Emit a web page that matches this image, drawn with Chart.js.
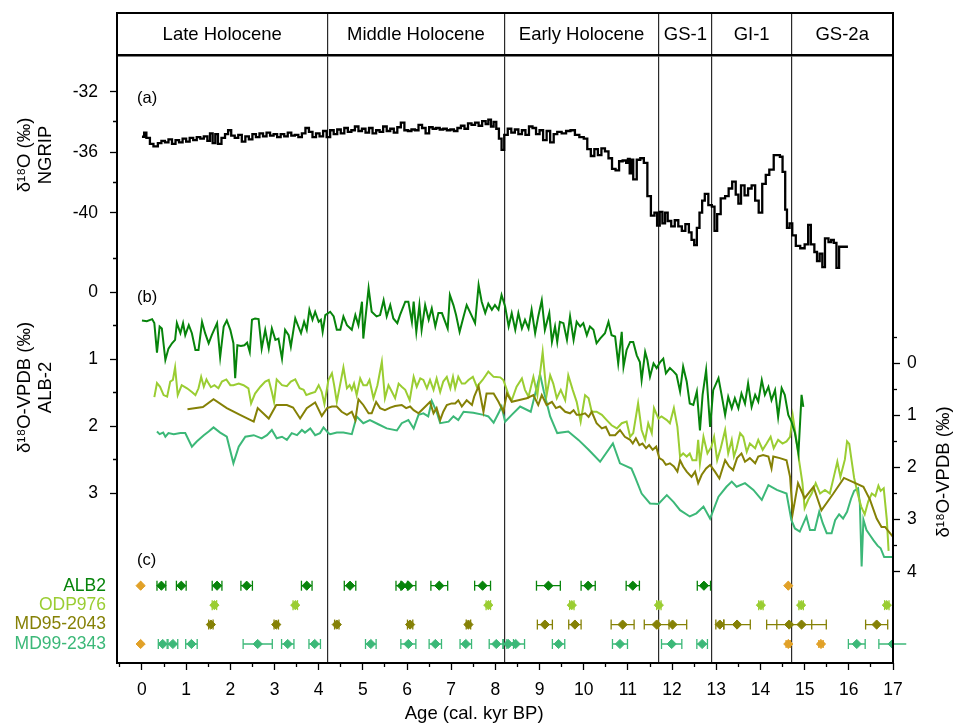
<!DOCTYPE html>
<html>
<head>
<meta charset="UTF-8">
<title>ALB-2 / NGRIP</title>
<script src="https://cdn.jsdelivr.net/npm/chart.js@4.4.1/dist/chart.umd.min.js"></script>
<style>
  body { margin: 0; background: #fff; }
</style>
</head>
<body>
<canvas id="chart_alb2" width="954" height="725"></canvas>
<script>
Chart.defaults.font.family = '"Liberation Sans", Arial, Helvetica, sans-serif';
Chart.defaults.color = '#000';

// axis ranges
const AGE_MIN = -0.565, AGE_MAX = 17;

// periods (header band)
const periodEdges = [AGE_MIN, 4.2, 8.2, 11.7, 12.9, 14.7, AGE_MAX];
const periodNames = ['Late Holocene', 'Middle Holocene', 'Early Holocene', 'GS-1', 'GI-1', 'GS-2a'];

// tick labels
const ageTicks = [0, 1, 2, 3, 4, 5, 6, 7, 8, 9, 10, 11, 12, 13, 14, 15, 16, 17];
const ngripTicks = [-32, -36, -40];
const ngripMinor = [-34, -38];
const alb2Ticks = [0, 1, 2, 3];
const alb2Minor = [-0.5, 0.5, 1.5, 2.5];
const marineTicks = [0, 1, 2, 3, 4];
const marineMinor = [-0.5, 0.5, 1.5, 2.5, 3.5];
const panelLabels = ['(a)', '(b)', '(c)'];
const marineTitle = 'δ¹⁸O-VPDB (‰)';

// (a) NGRIP d18O
const ngripAge = [0.00, 0.05, 0.10, 0.18, 0.26, 0.36, 0.44, 0.52, 0.60, 0.68, 0.76, 0.84, 0.92, 1.00, 1.08, 1.16, 1.24, 1.32, 1.40, 1.48,
  1.54, 1.60, 1.66, 1.72, 1.80, 1.88, 1.95, 2.02, 2.10, 2.18, 2.26, 2.34, 2.42, 2.50, 2.58, 2.66, 2.74, 2.82, 2.90, 2.98,
  3.06, 3.14, 3.22, 3.30, 3.38, 3.46, 3.54, 3.62, 3.70, 3.78, 3.86, 3.94, 4.02, 4.10, 4.18, 4.26, 4.34, 4.42, 4.50, 4.58,
  4.66, 4.74, 4.82, 4.90, 4.98, 5.06, 5.14, 5.22, 5.30, 5.38, 5.46, 5.54, 5.62, 5.70, 5.78, 5.86, 5.94, 6.02, 6.10, 6.18,
  6.26, 6.34, 6.42, 6.50, 6.58, 6.66, 6.74, 6.82, 6.90, 6.98, 7.06, 7.14, 7.22, 7.30, 7.38, 7.46, 7.54, 7.62, 7.70, 7.78,
  7.84, 7.90, 7.96, 8.02, 8.08, 8.14, 8.20, 8.28, 8.36, 8.44, 8.52, 8.60, 8.68, 8.76, 8.84, 8.92, 9.00, 9.08, 9.16, 9.24,
  9.32, 9.40, 9.50, 9.60, 9.70, 9.80, 9.90, 10.00, 10.08, 10.16, 10.24, 10.32, 10.40, 10.48, 10.56, 10.64, 10.72, 10.80, 10.88, 10.96,
  11.00, 11.04, 11.08, 11.12, 11.20, 11.28, 11.36, 11.44, 11.52, 11.60, 11.66, 11.72, 11.78, 11.84, 11.90, 11.98, 12.06, 12.14, 12.22, 12.30,
  12.38, 12.44, 12.50, 12.56, 12.62, 12.68, 12.74, 12.82, 12.90, 12.96, 13.02, 13.10, 13.20, 13.28, 13.36, 13.44, 13.50, 13.56, 13.64, 13.72,
  13.80, 13.88, 13.96, 14.04, 14.12, 14.20, 14.30, 14.44, 14.50, 14.56, 14.60, 14.66, 14.72, 14.80, 14.90, 15.00, 15.08, 15.14, 15.22, 15.28,
  15.34, 15.40, 15.46, 15.54, 15.60, 15.66, 15.72, 15.78, 15.98];
const ngripD18O = [-34.98, -34.70, -35.05, -35.45, -35.62, -35.40, -35.25, -35.35, -35.15, -35.45, -35.20, -35.35, -35.10, -35.30, -35.05, -35.20, -35.00, -35.10, -34.95, -35.25,
  -34.75, -35.40, -34.80, -35.45, -35.05, -34.80, -34.55, -34.90, -35.05, -34.85, -35.30, -34.95, -35.15, -34.80, -35.00, -34.75, -34.95, -34.70, -34.90, -34.80,
  -35.00, -34.80, -34.95, -34.70, -34.90, -34.85, -35.00, -34.75, -34.40, -34.65, -35.00, -34.75, -34.95, -34.60, -35.00, -34.55, -34.80, -34.50, -34.75, -34.40,
  -34.65, -34.55, -34.30, -34.60, -34.45, -34.70, -34.40, -34.75, -34.55, -34.65, -34.30, -34.60, -34.45, -34.70, -34.35, -34.05, -34.55, -34.60, -34.50, -34.55,
  -34.20, -34.40, -34.75, -34.35, -34.45, -34.40, -34.50, -34.45, -34.55, -34.50, -34.60, -34.40, -34.25, -34.45, -34.10, -34.20, -34.05, -34.25, -33.95, -34.15,
  -33.85, -34.30, -34.00, -34.45, -35.10, -35.85, -34.85, -34.45, -34.70, -34.50, -34.80, -34.55, -34.85, -34.30, -34.40, -34.80, -34.55, -35.20, -34.60, -35.35,
  -34.80, -34.65, -34.75, -34.60, -34.55, -34.85, -35.00, -35.10, -35.80, -36.25, -35.80, -36.20, -35.75, -35.95, -36.40, -37.10, -37.20, -36.60, -36.55, -36.70,
  -36.45, -37.40, -36.50, -37.80, -36.50, -36.40, -36.70, -38.90, -40.20, -40.00, -40.85, -39.95, -40.70, -40.00, -40.55, -40.90, -40.50, -40.90, -41.20, -40.75,
  -41.30, -41.80, -42.15, -41.00, -40.00, -39.20, -38.75, -39.50, -39.60, -41.20, -40.10, -39.05, -38.90, -38.40, -37.95, -38.80, -39.40, -38.20, -38.85, -38.40,
  -38.20, -39.20, -40.00, -38.10, -37.50, -37.15, -36.20, -36.30, -37.30, -39.80, -41.00, -40.70, -41.50, -42.20, -42.35, -42.10, -40.80, -42.10, -42.60, -43.20,
  -42.70, -43.60, -41.70, -41.95, -41.80, -42.00, -43.65, -42.25, -42.25];

// (b) ALB-2 speleothem d18O (left axis)
const alb2Age = [0.00, 0.11, 0.23, 0.28, 0.34, 0.40, 0.45, 0.53, 0.60, 0.68, 0.75, 0.79, 0.87, 0.93, 0.98, 1.06, 1.13, 1.21, 1.28, 1.36,
  1.43, 1.51, 1.58, 1.70, 1.77, 1.85, 1.92, 2.00, 2.07, 2.11, 2.16, 2.24, 2.32, 2.38, 2.44, 2.49, 2.56, 2.64, 2.71, 2.79,
  2.87, 2.94, 3.02, 3.09, 3.17, 3.24, 3.32, 3.37, 3.47, 3.54, 3.60, 3.67, 3.73, 3.79, 3.86, 3.92, 4.00, 4.05, 4.09, 4.15,
  4.26, 4.34, 4.41, 4.49, 4.56, 4.64, 4.75, 4.83, 4.90, 4.98, 5.01, 5.13, 5.20, 5.31, 5.39, 5.47, 5.54, 5.62, 5.69, 5.78,
  5.84, 5.96, 6.03, 6.11, 6.15, 6.21, 6.28, 6.33, 6.41, 6.49, 6.56, 6.64, 6.71, 6.79, 6.92, 6.97, 7.05, 7.11, 7.19, 7.28,
  7.35, 7.47, 7.54, 7.62, 7.69, 7.77, 7.84, 7.92, 7.99, 8.07, 8.14, 8.22, 8.30, 8.37, 8.45, 8.52, 8.60, 8.67, 8.75, 8.82,
  8.90, 8.97, 9.05, 9.12, 9.22, 9.28, 9.35, 9.40, 9.46, 9.54, 9.62, 9.69, 9.77, 9.84, 9.92, 9.99, 10.07, 10.14, 10.22, 10.29,
  10.37, 10.48, 10.56, 10.63, 10.71, 10.78, 10.86, 10.90, 10.97, 11.05, 11.12, 11.20, 11.27, 11.31, 11.39, 11.44, 11.50, 11.58, 11.65, 11.73,
  11.80, 11.86, 11.95, 12.03, 12.10, 12.18, 12.25, 12.33, 12.40, 12.48, 12.56, 12.63, 12.69, 12.77, 12.86, 12.93, 13.05, 13.12, 13.20, 13.27,
  13.35, 13.42, 13.50, 13.57, 13.65, 13.72, 13.80, 13.88, 13.95, 14.03, 14.10, 14.18, 14.25, 14.33, 14.40, 14.48, 14.55, 14.63, 14.70, 14.78,
  14.86, 14.93, 14.97];
const alb2D18O = [0.42, 0.43, 0.40, 0.46, 0.90, 0.51, 0.54, 1.01, 0.84, 0.76, 0.71, 0.46, 0.61, 0.46, 0.64, 0.49, 0.61, 0.86, 0.86, 0.44,
  0.61, 0.76, 0.64, 0.46, 0.97, 0.51, 0.42, 0.56, 0.76, 1.28, 0.79, 0.80, 0.79, 0.75, 0.89, 0.41, 0.39, 0.40, 0.84, 0.56,
  0.84, 0.54, 0.71, 0.69, 0.99, 0.56, 0.64, 0.81, 0.39, 0.51, 0.61, 0.44, 0.56, 0.26, 0.41, 0.29, 0.44, 0.41, 0.59, 0.34,
  0.29, 0.36, 0.56, 0.56, 0.36, 0.49, 0.56, 0.34, 0.49, 0.14, 0.69, -0.06, 0.29, 0.36, 0.34, 0.12, 0.36, 0.19, 0.39, 0.46,
  0.34, 0.14, 0.14, 0.44, 0.14, 0.59, 0.19, 0.56, 0.19, 0.41, 0.24, 0.51, 0.31, 0.31, 0.54, 0.04, 0.19, 0.34, 0.59, 0.36,
  0.19, 0.36, 0.46, -0.11, 0.14, 0.31, 0.17, 0.26, 0.19, 0.26, 0.04, 0.21, 0.51, 0.31, 0.56, 0.31, 0.54, 0.41, 0.54, 0.26,
  0.61, 0.36, 0.12, 0.56, 0.31, 0.74, 0.51, 0.74, 0.44, 0.46, 0.71, 0.36, 0.71, 0.44, 0.51, 0.46, 0.64, 0.51, 0.56, 0.76,
  0.69, 0.61, 0.44, 0.64, 0.66, 1.06, 0.59, 1.11, 0.86, 0.74, 0.74, 0.94, 1.04, 1.31, 0.89, 1.01, 1.26, 1.06, 1.13, 1.04,
  0.99, 1.21, 1.13, 1.18, 1.23, 1.48, 1.11, 1.33, 1.66, 1.68, 1.48, 2.06, 1.53, 1.16, 2.01, 1.46, 1.28, 1.53, 1.83, 1.56,
  1.73, 1.58, 1.73, 1.51, 1.66, 1.36, 1.71, 1.53, 1.63, 1.31, 1.53, 1.41, 1.61, 1.46, 1.86, 1.43, 1.53, 1.83, 1.93, 2.10,
  2.40, 1.53, 1.71];

// (b) marine cores d18O (right axis)
const odpAge = [0.28, 0.34, 0.41, 0.49, 0.57, 0.64, 0.70, 0.75, 0.81, 0.90, 1.02, 1.13, 1.21, 1.28, 1.34, 1.40, 1.46, 1.51, 1.56, 1.64,
  1.73, 1.81, 1.91, 2.00, 2.07, 2.19, 2.30, 2.41, 2.47, 2.56, 2.68, 2.79, 2.87, 2.94, 2.99, 3.05, 3.17, 3.28, 3.37, 3.47,
  3.57, 3.66, 3.72, 3.81, 3.92, 4.00, 4.07, 4.13, 4.22, 4.30, 4.35, 4.41, 4.49, 4.56, 4.64, 4.70, 4.75, 4.80, 4.86, 4.94,
  5.01, 5.09, 5.15, 5.24, 5.33, 5.43, 5.50, 5.58, 5.66, 5.73, 5.81, 5.88, 5.96, 6.06, 6.15, 6.22, 6.30, 6.37, 6.45, 6.52,
  6.60, 6.67, 6.75, 6.82, 6.90, 6.98, 7.04, 7.09, 7.16, 7.24, 7.31, 7.39, 7.49, 7.58, 7.71, 7.84, 7.96, 8.11, 8.18, 8.30,
  8.37, 8.48, 8.60, 8.67, 8.75, 8.86, 8.95, 9.07, 9.16, 9.24, 9.31, 9.39, 9.48, 9.58, 9.65, 9.75, 9.84, 9.93, 10.03, 10.11,
  10.18, 10.29, 10.41, 10.52, 10.63, 10.75, 10.86, 10.97, 11.05, 11.12, 11.23, 11.31, 11.39, 11.46, 11.54, 11.59, 11.69, 11.76, 11.88, 11.95,
  12.04, 12.12, 12.18, 12.25, 12.33, 12.40, 12.46, 12.55, 12.59, 12.63, 12.71, 12.80, 12.89, 12.95, 13.02, 13.10, 13.20, 13.27, 13.35, 13.40,
  13.46, 13.54, 13.61, 13.69, 13.76, 13.88, 13.95, 14.05, 14.14, 14.23, 14.30, 14.40, 14.50, 14.59, 14.67, 14.73, 14.80, 14.88, 14.95, 15.00,
  15.08, 15.16, 15.25, 15.35, 15.46, 15.57, 15.66, 15.74, 15.81, 15.91, 15.96, 16.01, 16.06, 16.12, 16.20, 16.28, 16.36, 16.44, 16.52, 16.60,
  16.67, 16.72, 16.79, 16.86, 16.90];
const odpD18O = [0.65, 0.38, 0.45, 0.61, 0.64, 0.35, 0.32, 0.08, 0.61, 0.42, 0.48, 0.55, 0.61, 0.48, 0.26, 0.45, 0.31, 0.39, 0.46, 0.42,
  0.48, 0.35, 0.31, 0.42, 0.42, 0.39, 0.42, 0.48, 0.77, 0.58, 0.45, 0.35, 0.32, 0.55, 0.74, 0.31, 0.42, 0.44, 0.35, 0.31,
  0.48, 0.51, 0.61, 0.58, 0.55, 0.42, 0.55, 0.78, 0.32, 0.19, 0.42, 0.74, 0.39, 0.08, 0.48, 0.42, 0.51, 0.39, 0.61, 0.29,
  0.42, 0.42, 0.32, 0.67, 0.42, -0.03, 0.67, 0.42, 0.55, 0.67, 0.39, 0.45, 0.51, 0.71, 0.26, 0.45, 0.29, 0.32, 0.48, 0.32,
  0.51, 0.29, 0.55, 0.35, 0.26, 0.48, 0.26, 0.48, 0.26, 0.39, 0.39, 0.32, 0.26, 0.45, 0.32, 0.16, 0.26, 0.27, 0.32, 0.61,
  0.71, 0.45, 0.29, 0.51, 0.64, 0.26, 0.61, -0.22, 0.61, 0.23, 0.39, 0.67, 0.51, 0.71, 0.23, 0.51, 0.74, 1.12, 0.61, 0.67,
  0.93, 0.93, 0.99, 1.09, 1.19, 1.25, 1.15, 1.12, 1.41, 1.34, 0.77, 1.28, 1.47, 1.15, 1.34, 0.86, 1.06, 1.02, 1.09, 1.15,
  0.86, 1.22, 1.79, 1.73, 1.79, 1.73, 1.86, 1.86, 1.47, 1.92, 1.41, 1.73, 1.60, 1.41, 1.86, 1.63, 1.28, 1.73, 1.47, 1.79,
  1.63, 1.34, 1.41, 1.70, 1.54, 1.63, 1.47, 1.66, 1.54, 1.41, 1.63, 1.47, 1.54, 1.50, 1.41, 1.00, 1.40, 1.90, 2.30, 2.78,
  2.62, 2.50, 2.30, 2.50, 2.43, 2.50, 2.18, 1.89, 2.18, 1.85, 1.50, 1.55, 1.85, 2.20, 2.50, 2.75, 2.90, 2.65, 2.50, 2.55,
  2.35, 2.45, 2.40, 3.00, 3.60];

const md95Age = [1.03, 1.38, 1.62, 1.92, 2.22, 2.53, 2.62, 2.87, 3.04, 3.28, 3.42, 3.58, 3.73, 3.92, 4.07, 4.19, 4.30, 4.41, 4.52, 4.64,
  4.75, 4.83, 4.90, 5.01, 5.13, 5.20, 5.30, 5.39, 5.50, 5.62, 5.73, 5.88, 5.98, 6.07, 6.15, 6.26, 6.33, 6.45, 6.52, 6.60,
  6.67, 6.75, 6.82, 6.90, 7.01, 7.09, 7.16, 7.24, 7.35, 7.47, 7.52, 7.62, 7.73, 7.80, 7.96, 8.07, 8.18, 8.26, 8.37, 8.52,
  8.71, 8.86, 8.97, 9.05, 9.16, 9.28, 9.37, 9.46, 9.58, 9.69, 9.77, 9.84, 9.92, 10.03, 10.11, 10.18, 10.29, 10.41, 10.50, 10.59,
  10.71, 10.82, 10.93, 11.05, 11.11, 11.18, 11.26, 11.33, 11.41, 11.48, 11.56, 11.64, 11.71, 11.79, 11.86, 11.95, 12.04, 12.12, 12.18, 12.25,
  12.33, 12.44, 12.52, 12.59, 12.67, 12.77, 12.86, 12.97, 13.07, 13.20, 13.29, 13.38, 13.47, 13.57, 13.65, 13.76, 13.88, 13.95, 14.06, 14.18,
  14.25, 14.29, 14.44, 14.59, 14.67, 14.73, 14.85, 15.00, 15.20, 15.38, 15.65, 15.89, 16.33, 16.48, 16.63, 16.74, 16.82, 17.00];
const md95D18O = [0.88, 0.84, 0.69, 0.86, 0.99, 1.12, 0.86, 1.06, 0.80, 0.80, 0.85, 1.06, 0.86, 0.75, 1.01, 0.86, 0.83, 0.83, 0.93, 0.99,
  0.93, 1.09, 0.69, 0.80, 0.96, 0.96, 0.74, 0.86, 0.90, 0.85, 0.82, 0.80, 0.86, 0.83, 0.90, 0.96, 0.90, 0.80, 0.74, 0.96,
  0.86, 1.09, 0.93, 0.80, 0.77, 0.77, 0.71, 0.83, 0.71, 0.80, 0.64, 0.44, 0.93, 0.58, 0.58, 0.74, 0.93, 0.58, 0.74, 0.71,
  0.67, 0.61, 0.80, 0.61, 0.80, 0.74, 0.86, 0.83, 0.93, 0.96, 0.90, 0.99, 0.99, 0.96, 1.03, 0.93, 1.15, 1.25, 1.22, 1.38,
  1.38, 1.28, 1.41, 1.47, 1.54, 1.44, 1.57, 1.54, 1.63, 1.57, 1.66, 1.60, 1.82, 1.86, 1.95, 1.92, 1.98, 2.08, 1.86, 1.98,
  2.08, 2.18, 2.08, 2.30, 2.14, 2.02, 1.95, 2.08, 2.21, 1.86, 1.98, 2.05, 1.82, 1.73, 1.89, 1.82, 1.92, 1.79, 1.76, 1.79,
  2.02, 1.79, 1.82, 1.86, 2.18, 2.88, 2.30, 2.59, 2.37, 2.82, 2.50, 2.20, 2.37, 2.62, 2.98, 3.14, 3.14, 3.33];

const md99Age = [0.34, 0.40, 0.48, 0.53, 0.60, 0.72, 0.87, 0.98, 1.13, 1.24, 1.40, 1.51, 1.62, 1.77, 1.92, 2.07, 2.19, 2.34, 2.53, 2.71,
  2.83, 2.94, 3.05, 3.17, 3.28, 3.39, 3.51, 3.62, 3.69, 3.81, 3.92, 4.03, 4.11, 4.22, 4.26, 4.41, 4.56, 4.75, 4.86, 5.01,
  5.16, 5.35, 5.54, 5.77, 5.88, 6.03, 6.15, 6.26, 6.37, 6.48, 6.56, 6.67, 6.75, 6.94, 7.05, 7.16, 7.28, 7.50, 7.73, 7.84,
  7.96, 8.07, 8.14, 8.22, 8.37, 8.56, 8.80, 9.01, 9.10, 9.24, 9.40, 9.65, 9.88, 10.11, 10.37, 10.66, 10.82, 11.08, 11.16, 11.31,
  11.50, 11.69, 11.88, 12.03, 12.18, 12.40, 12.55, 12.71, 12.86, 13.05, 13.23, 13.35, 13.46, 13.65, 13.84, 14.03, 14.18, 14.37, 14.59, 14.70,
  14.78, 14.89, 15.04, 15.12, 15.23, 15.33, 15.41, 15.50, 15.61, 15.69, 15.78, 15.87, 15.96, 16.05, 16.12, 16.21, 16.25, 16.29, 16.33, 16.40,
  16.48, 16.56, 16.65, 16.72, 16.80, 17.00];
const md99D18O = [1.31, 1.36, 1.33, 1.41, 1.34, 1.36, 1.34, 1.34, 1.60, 1.50, 1.38, 1.31, 1.23, 1.33, 1.41, 1.92, 1.60, 1.41, 1.38, 1.44,
  1.38, 1.28, 1.44, 1.41, 1.47, 1.34, 1.38, 1.28, 1.33, 1.25, 1.38, 1.34, 1.23, 1.34, 1.36, 1.33, 1.33, 1.36, 1.02, 1.15,
  1.09, 1.17, 1.25, 1.29, 1.15, 1.09, 1.25, 0.99, 0.96, 1.02, 0.72, 0.93, 1.15, 1.12, 1.02, 1.09, 0.93, 0.95, 0.99, 1.02,
  1.14, 0.96, 0.83, 1.12, 0.99, 0.83, 0.93, 0.21, 0.55, 1.02, 1.34, 1.31, 1.47, 1.66, 1.89, 1.54, 1.92, 2.02, 2.18, 2.50,
  2.69, 2.70, 2.53, 2.66, 2.82, 2.94, 2.88, 2.75, 2.98, 2.56, 2.37, 2.27, 2.37, 2.30, 2.43, 2.62, 2.34, 2.43, 2.50, 3.01,
  3.17, 3.23, 2.94, 3.20, 3.20, 2.85, 3.07, 3.26, 3.26, 3.01, 2.90, 2.98, 2.85, 2.60, 2.45, 2.40, 2.70, 3.90, 3.00, 3.20,
  3.30, 3.40, 3.50, 3.55, 3.72, 3.72];

// (c) age control points, one row per core
const coreNames = ['ALB2', 'ODP976', 'MD95-2043', 'MD99-2343'];
const coreColors = ['#07840b', '#9acd32', '#858106', '#3cb878'];
const tephraColor = '#e1a128';

const alb2DateAge = [0.44, 0.89, 1.70, 2.37, 3.73, 4.71, 5.88, 6.03, 6.73, 7.71, 9.20, 10.10, 11.11, 12.72];
const alb2DateErr = [0.10, 0.11, 0.11, 0.13, 0.12, 0.13, 0.13, 0.17, 0.19, 0.18, 0.27, 0.16, 0.15, 0.15];
const odpDateAge = [1.64, 3.47, 7.84, 9.73, 11.70, 14.01, 14.92, 16.86];
const odpDateErr = [0.05, 0.05, 0.05, 0.05, 0.05, 0.05, 0.05, 0.05];
const md95DateAge = [1.56, 3.04, 4.41, 6.07, 7.39, 9.12, 9.80, 10.88, 11.65, 12.01, 13.08, 13.47, 14.65, 14.93, 16.63];
const md95DateErr = [0.05, 0.05, 0.05, 0.06, 0.05, 0.17, 0.14, 0.26, 0.28, 0.32, 0.09, 0.30, 0.51, 0.56, 0.25];
const md99DateAge = [0.47, 0.70, 1.12, 2.62, 3.30, 3.91, 5.18, 6.03, 6.64, 7.33, 8.02, 8.29, 8.46, 9.43, 10.82, 11.99, 12.68, 16.18, 16.99];
const md99DateErr = [0.10, 0.11, 0.13, 0.33, 0.14, 0.13, 0.12, 0.17, 0.14, 0.13, 0.16, 0.12, 0.20, 0.14, 0.17, 0.23, 0.12, 0.19, 0.31];
const tephraAge = [-0.03, 14.63, -0.03, 14.63, 15.37];
const tephraErr = [0, 0, 0, 0.05, 0.05];
const tephraRow = [1, 1, 4, 4, 4];

// ---- helpers ----
const pts = (xs, ys) => xs.map((x, i) => ({x: x, y: ys[i]}));

function errorBars(ages, errs, rows) {
  const out = [];
  ages.forEach((a, i) => {
    const r = Array.isArray(rows) ? rows[i] : rows;
    out.push({x: a - errs[i], y: r}, {x: a + errs[i], y: r}, {x: a, y: null});
  });
  return out;
}

function setTicks(scale, major, minor) {
  scale.ticks = major.concat(minor).sort((a, b) => a - b).map(v => ({value: v}));
}

const rowOf = name => coreNames.indexOf(name) + 1;

function seriesSet(data, color, axis, width) {
  // clip off: the records run a little past their axis block, as in the figure
  return {type: 'line', data: data, xAxisID: 'x', yAxisID: axis, borderColor: color,
          borderWidth: width || 2, pointRadius: 0, tension: 0, clip: false};
}

function dateSets(ages, errs, idx) {
  const color = coreColors[idx];
  const row = idx + 1;
  return [
    {type: 'scatter', data: ages.map(a => ({x: a, y: row})), xAxisID: 'x', yAxisID: 'yC',
     pointStyle: 'rectRot', pointRadius: 4.6, backgroundColor: color, borderColor: color, borderWidth: 1},
    {type: 'line', data: errorBars(ages, errs, row), xAxisID: 'x', yAxisID: 'yC', spanGaps: false, clip: false,
     borderColor: color, borderWidth: 1.3, pointStyle: 'line', pointRotation: 90, pointRadius: 5,
     pointBorderColor: color, pointBorderWidth: 1.3}
  ];
}

// header ticks: edges (even index) and period centres (odd index)
const headerTicks = [];
periodEdges.forEach((e, i) => {
  headerTicks.push(e);
  if (i < periodEdges.length - 1) headerTicks.push((e + periodEdges[i + 1]) / 2);
});

const ageMinor = ageTicks.map(v => v - 0.5);
const tickFont = {size: 17.5};
const titleFont = {size: 18.5, lineHeight: 1.1};
const FONT = '"Liberation Sans", Arial, sans-serif';

// minor ticks are shorter: left ticks are drawn from the outside in, the others from the axis out
const dashLeft = major => c => major.includes(c.tick.value) ? [] : [0, 3, 4, 30];
const dashOut = major => c => major.includes(c.tick.value) ? [] : [4, 30];

const stepped = Object.assign(seriesSet(pts(ngripAge, ngripD18O), '#000', 'yA', 2.3), {stepped: true});

const datasets = [
  stepped,
  seriesSet(pts(alb2Age, alb2D18O), coreColors[0], 'yB'),
  seriesSet(pts(md95Age, md95D18O), coreColors[2], 'yR'),
  seriesSet(pts(odpAge, odpD18O), coreColors[1], 'yR'),
  seriesSet(pts(md99Age, md99D18O), coreColors[3], 'yR'),
  {type: 'scatter', data: pts(tephraAge, tephraRow), xAxisID: 'x', yAxisID: 'yC',
   pointStyle: 'rectRot', pointRadius: 4.6, backgroundColor: tephraColor, borderColor: tephraColor, borderWidth: 1},
  {type: 'line', data: errorBars(tephraAge, tephraErr, tephraRow), xAxisID: 'x', yAxisID: 'yC', spanGaps: false,
   borderColor: tephraColor, borderWidth: 1.3, pointStyle: 'line', pointRotation: 90, pointRadius: 4,
   pointBorderColor: tephraColor, pointBorderWidth: 1.3}
].concat(
  dateSets(alb2DateAge, alb2DateErr, 0),
  dateSets(odpDateAge, odpDateErr, 1),
  dateSets(md95DateAge, md95DateErr, 2),
  dateSets(md99DateAge, md99DateErr, 3)
);

// outer frame, panel letters and the right-hand title (which reads bottom to top)
const framePlugin = {
  id: 'frame',
  afterDraw(chart) {
    const ctx = chart.ctx, a = chart.chartArea, s = chart.scales;
    const top = s.xTop.top;
    ctx.save();
    ctx.strokeStyle = '#000';
    ctx.lineWidth = 2;
    ctx.strokeRect(a.left, top, a.right - a.left, a.bottom - top);
    ctx.fillStyle = '#000';
    ctx.font = '16.5px ' + FONT;
    ctx.textBaseline = 'middle';
    ctx.fillText(panelLabels[0], a.left + 20, s.yA.getPixelForValue(-32.42));
    ctx.fillText(panelLabels[1], a.left + 20, s.yB.getPixelForValue(0.07));
    ctx.fillText(panelLabels[2], a.left + 20, s.yC.getPixelForValue(-0.32));

    ctx.translate(s.yR.right - 10, (s.yR.top + s.yR.bottom) / 2);
    ctx.rotate(-Math.PI / 2);
    ctx.textAlign = 'center';
    ctx.font = titleFont.size + 'px ' + FONT;
    ctx.fillText(marineTitle, 0, 0);
    ctx.restore();
  }
};

new Chart(document.getElementById('chart_alb2'), {
  type: 'line',
  data: {datasets: datasets},
  options: {
    responsive: false,
    animation: false,
    events: [],
    layout: {padding: {top: 13, left: 0, right: 0, bottom: 0}},
    plugins: {legend: {display: false}, tooltip: {enabled: false}},
    scales: {
      x: {
        type: 'linear', position: 'bottom', min: AGE_MIN, max: AGE_MAX,
        afterBuildTicks: s => setTicks(s, ageTicks, ageMinor),
        afterFit: s => { s.height = 62; },
        ticks: {autoSkip: false, maxRotation: 0, padding: 10, font: tickFont,
                callback: v => ageTicks.includes(v) ? String(v) : ''},
        grid: {drawOnChartArea: false, tickLength: 7, color: '#000', tickWidth: 1.3, tickBorderDash: dashOut(ageTicks)},
        border: {display: false},
        // trailing spaces shift the centred title left, as in the figure
        title: {display: true, text: 'Age (cal. kyr BP)' + '\u00a0'.repeat(12), font: titleFont, padding: {top: 0, bottom: 1}}
      },
      xTop: {
        type: 'linear', position: 'top', min: AGE_MIN, max: AGE_MAX,
        afterBuildTicks: s => { s.ticks = headerTicks.map(v => ({value: v})); },
        afterFit: s => { s.height = 42; },
        ticks: {autoSkip: false, maxRotation: 0, padding: -32, font: titleFont,
                callback: (v, i) => i % 2 ? periodNames[(i - 1) / 2] : ''},
        grid: {drawOnChartArea: true, tickLength: 42, lineWidth: 1.2,
               color: c => c.index % 2 ? 'rgba(0,0,0,0)' : '#2a2a2a'},
        border: {display: true, width: 2.5, color: '#000'}
      },
      yA: {
        type: 'linear', position: 'left', stack: 'left', stackWeight: 200, weight: 3,
        min: -42.797, max: -29.574,
        afterBuildTicks: s => setTicks(s, ngripTicks, ngripMinor),
        afterFit: s => { s.width = 117; },
        ticks: {autoSkip: false, padding: 12, font: tickFont, callback: v => ngripTicks.includes(v) ? String(v) : ''},
        grid: {drawOnChartArea: false, tickLength: 7, color: '#000', tickWidth: 1.3, tickBorderDash: dashLeft(ngripTicks)},
        border: {display: false},
        title: {display: true, text: ['δ¹⁸O (‰)', 'NGRIP'], font: titleFont, padding: {top: 15, bottom: 0}}
      },
      yB: {
        type: 'linear', position: 'left', stack: 'left', stackWeight: 265, weight: 2,
        reverse: true, min: -0.557, max: 3.398,
        afterBuildTicks: s => setTicks(s, alb2Ticks, alb2Minor),
        afterFit: s => { s.width = 117; },
        ticks: {autoSkip: false, padding: 12, font: tickFont, callback: v => alb2Ticks.includes(v) ? String(v) : ''},
        grid: {drawOnChartArea: false, tickLength: 7, color: '#000', tickWidth: 1.3, tickBorderDash: dashLeft(alb2Ticks)},
        border: {display: false},
        title: {display: true, text: ['δ¹⁸O-VPDB (‰)', 'ALB-2'], font: titleFont, padding: {top: 15, bottom: 0}}
      },
      yC: {
        type: 'linear', position: 'left', stack: 'left', stackWeight: 143, weight: 1,
        reverse: true, min: -2.381, max: 4.978,
        afterBuildTicks: s => { s.ticks = coreNames.map(n => ({value: rowOf(n)})); },
        afterFit: s => { s.width = 117; },
        ticks: {autoSkip: false, padding: 11, font: {size: 17.5},
                color: c => coreColors[c.index], callback: (v, i) => coreNames[i]},
        grid: {drawOnChartArea: false, drawTicks: false},
        border: {display: false}
      },
      rTop: {type: 'linear', position: 'right', stack: 'right', stackWeight: 275, weight: 1, display: false, min: 0, max: 1},
      yR: {
        type: 'linear', position: 'right', stack: 'right', stackWeight: 284, weight: 2,
        reverse: true, min: -0.639, max: 4.812,
        afterBuildTicks: s => setTicks(s, marineTicks, marineMinor),
        afterFit: s => { s.width = 61; },
        ticks: {autoSkip: false, padding: 7, font: tickFont, callback: v => marineTicks.includes(v) ? String(v) : ''},
        grid: {drawOnChartArea: false, tickLength: 7, color: '#000', tickWidth: 1.3, tickBorderDash: dashOut(marineTicks)},
        border: {display: false}
      },
      rBot: {type: 'linear', position: 'right', stack: 'right', stackWeight: 49, weight: 3, display: false, min: 0, max: 1}
    }
  },
  plugins: [framePlugin]
});
</script>
</body>
</html>
